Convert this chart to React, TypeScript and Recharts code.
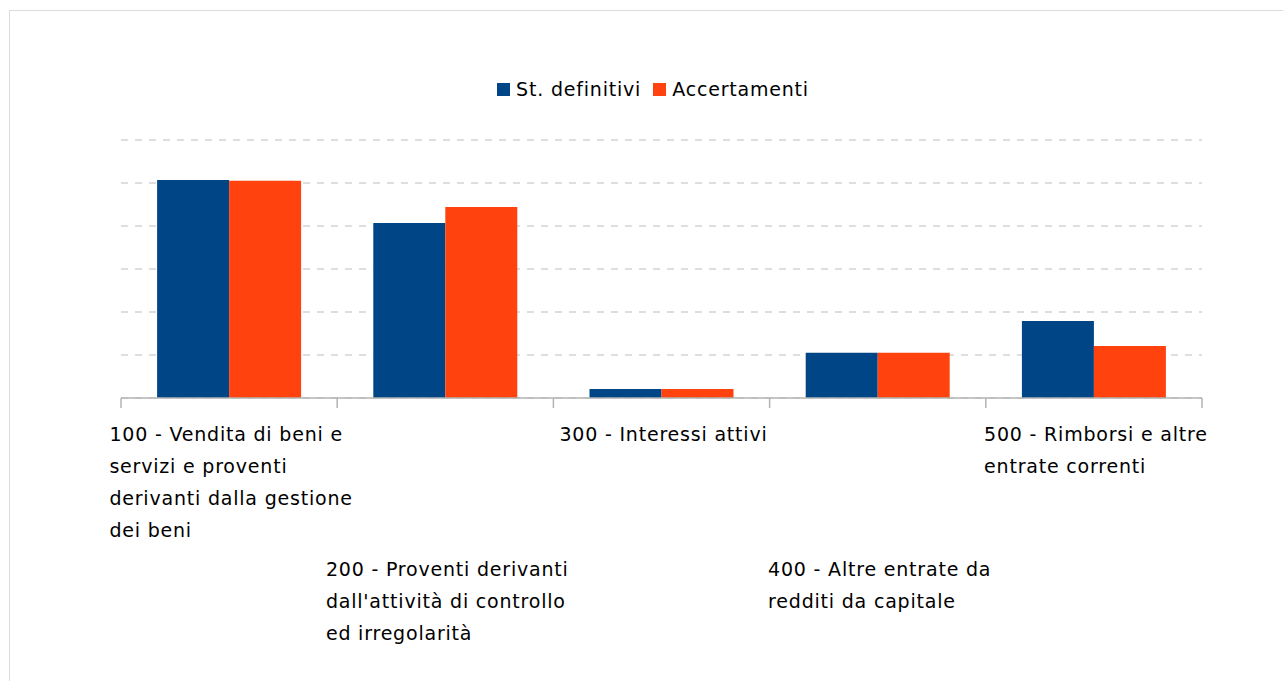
import { BarChart, Bar, XAxis, YAxis, CartesianGrid } from 'recharts'

const categories = [
  '100 - Vendita di beni e\nservizi e proventi\nderivanti dalla gestione\ndei beni',
  "200 - Proventi derivanti\ndall'attività di controllo\ned irregolarità",
  '300 - Interessi attivi',
  '400 - Altre entrate da\nredditi da capitale',
  '500 - Rimborsi e altre\nentrate correnti',
]
const stDefinitivi = [5.07, 4.07, 0.21, 1.05, 1.79]
const accertamenti = [5.05, 4.44, 0.21, 1.05, 1.21]
const yTicks = [0, 1, 2, 3, 4, 5, 6]
const seriesNames = ['St. definitivi', 'Accertamenti']

const BLUE = '#004586'
const ORANGE = '#ff420e'
const FONT = '"DejaVu Sans", Verdana, sans-serif'

const W = 1283
const H = 681
const AXIS_H = 283
const M = { top: 140, right: 81, bottom: 0, left: 121 }
const band = (W - M.left - M.right) / categories.length

const data = categories.map((name, i) => ({
  name,
  st: stDefinitivi[i],
  acc: accertamenti[i],
}))

function CategoryTick(props: any) {
  const { x, y, payload, index } = props
  const lines: string[] = String(payload.value).split('\n')
  const left = x - band / 2
  const top = y + (index % 2 === 0 ? 12 : 147)
  return (
    <g>
      <line x1={left} y1={y - 8} x2={left} y2={y + 2} stroke="#b3b3b3" strokeWidth={1.5} />
      {index === categories.length - 1 && (
        <line x1={left + band} y1={y - 8} x2={left + band} y2={y + 2} stroke="#b3b3b3" strokeWidth={1.5} />
      )}
      <foreignObject x={x - 158} y={top} width={320} height={140}>
        <div style={{ display: 'flex', justifyContent: 'center' }}>
          <div
            style={{
              fontFamily: FONT,
              fontSize: 19,
              lineHeight: '32px',
              letterSpacing: 0.8,
              color: '#000',
              whiteSpace: 'pre',
              textAlign: 'left',
            }}
          >
            {lines.join('\n')}
          </div>
        </div>
      </foreignObject>
    </g>
  )
}

function LegendBox() {
  const colors = [BLUE, ORANGE]
  return (
    <div
      style={{
        position: 'absolute',
        left: 8,
        top: 78,
        width: 1302,
        display: 'flex',
        justifyContent: 'center',
      }}
    >
      {seriesNames.map((label, i) => (
        <div key={label} style={{ display: 'flex', alignItems: 'center', marginRight: 12 }}>
          <span style={{ width: 13, height: 13, background: colors[i], display: 'inline-block', marginRight: 6 }} />
          <span style={{ fontFamily: FONT, fontSize: 19, letterSpacing: 0.8, color: '#000' }}>{label}</span>
        </div>
      ))}
    </div>
  )
}

export default function App() {
  return (
    <div style={{ position: 'absolute', left: 0, top: 0, width: W, height: H, overflow: 'hidden', background: '#fff' }}>
      <div
        style={{
          position: 'absolute',
          left: 9,
          top: 10,
          width: W,
          height: H,
          borderTop: '1px solid #dcdcdc',
          borderLeft: '1px solid #dcdcdc',
        }}
      />
      <div style={{ position: 'absolute', left: 0, top: 0 }}>
        <BarChart width={W} height={H} data={data} margin={M} barCategoryGap="16.7%" barGap={0}>
          <CartesianGrid vertical={false} stroke="#bdbdbd" strokeDasharray="7 7" />
          <XAxis
            dataKey="name"
            height={AXIS_H}
            axisLine={{ stroke: '#b3b3b3', strokeWidth: 1.5 }}
            tickLine={false}
            interval={0}
            tick={<CategoryTick />}
          />
          <YAxis hide domain={[0, 6]} ticks={yTicks} />
          <Bar dataKey="st" name={seriesNames[0]} fill={BLUE} isAnimationActive={false} />
          <Bar dataKey="acc" name={seriesNames[1]} fill={ORANGE} isAnimationActive={false} />
        </BarChart>
      </div>
      <LegendBox />
    </div>
  )
}
